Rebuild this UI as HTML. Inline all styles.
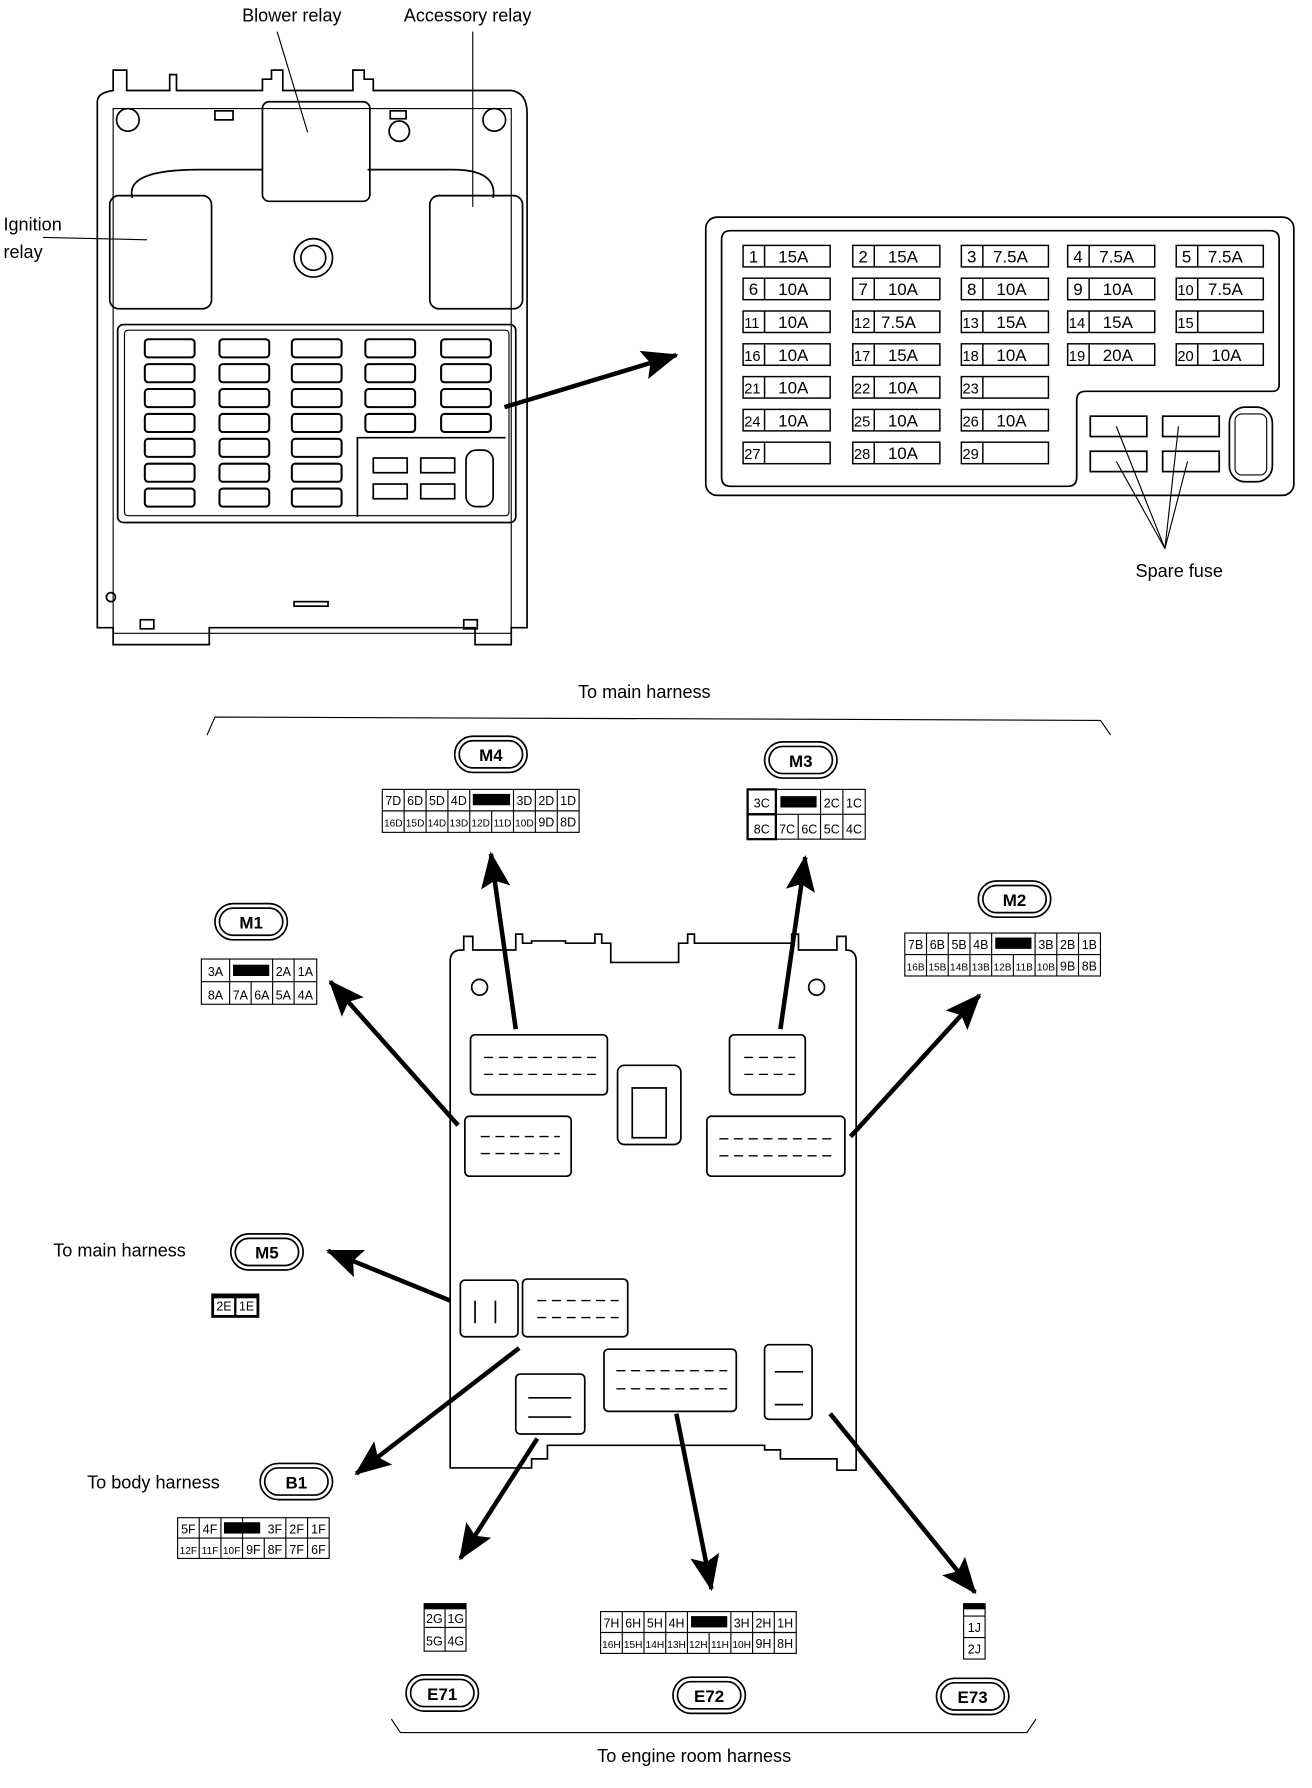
<!DOCTYPE html>
<html><head><meta charset="utf-8"><style>
html,body{margin:0;padding:0;background:#fff}
svg{display:block}
text{font-family:"Liberation Sans",sans-serif;fill:#000}
.l{font-size:16px}
.p{font-size:11px;text-anchor:middle}
.f{font-size:15px}
.b{font-size:15px;font-weight:bold;text-anchor:middle}
</style></head><body>
<svg width="1312" height="1788" viewBox="0 0 1160 1581" xmlns="http://www.w3.org/2000/svg">
<defs>
<marker id="ah" markerUnits="userSpaceOnUse" markerWidth="34" markerHeight="26" refX="30" refY="13" orient="auto">
<path d="M0,0 L32,13 L0,26 L6,13 Z" fill="#000"/>
</marker>
</defs>
<g fill="none" stroke="#000" stroke-width="1.5">
<!-- LEFT FUSE BOX -->
<path d="M86,90 Q86,82 100,80 L100,62 L112,62 L112,80 L150,80 L150,66 L156,66 L156,80 L232,80 L232,70 L240,70 L240,62 L250,62 L250,80 L312,80 L312,62 L322,62 L322,70 L330,70 L330,80 L452,80 Q466,82 466,100 L466,555 L452,555 L452,570 L420,570 L420,555 L185,555 L185,570 L100,570 L100,555 L86,555 Z"/>
<path d="M100,96 L452,96 L452,560 L100,560 Z" stroke-width="1"/>
<circle cx="113" cy="106" r="10"/><circle cx="437" cy="106" r="10"/>
<circle cx="353" cy="116" r="9"/>
<rect x="190" y="98" width="16" height="8"/><rect x="345" y="98" width="14" height="7"/>
<path d="M117,175 Q110,150 176,150 L232,150"/><path d="M325,150 L400,150 Q440,150 436,175"/>
<rect x="232" y="90" width="95" height="88" rx="6"/>
<rect x="97" y="173" width="90" height="100" rx="8"/>
<rect x="380" y="173" width="82" height="100" rx="8"/>
<circle cx="277" cy="228" r="17"/><circle cx="277" cy="228" r="11"/>
<rect x="104" y="287" width="352" height="175" rx="5"/>
<rect x="110" y="292" width="340" height="164" rx="3" stroke-width="1"/>
<path d="M316,457 L316,387 L447,387"/>
<g stroke-width="1.8">
<rect x="128" y="300" width="44" height="16" rx="3"/><rect x="194" y="300" width="44" height="16" rx="3"/><rect x="258" y="300" width="44" height="16" rx="3"/><rect x="323" y="300" width="44" height="16" rx="3"/><rect x="390" y="300" width="44" height="16" rx="3"/>
<rect x="128" y="322" width="44" height="16" rx="3"/><rect x="194" y="322" width="44" height="16" rx="3"/><rect x="258" y="322" width="44" height="16" rx="3"/><rect x="323" y="322" width="44" height="16" rx="3"/><rect x="390" y="322" width="44" height="16" rx="3"/>
<rect x="128" y="344" width="44" height="16" rx="3"/><rect x="194" y="344" width="44" height="16" rx="3"/><rect x="258" y="344" width="44" height="16" rx="3"/><rect x="323" y="344" width="44" height="16" rx="3"/><rect x="390" y="344" width="44" height="16" rx="3"/>
<rect x="128" y="366" width="44" height="16" rx="3"/><rect x="194" y="366" width="44" height="16" rx="3"/><rect x="258" y="366" width="44" height="16" rx="3"/><rect x="323" y="366" width="44" height="16" rx="3"/><rect x="390" y="366" width="44" height="16" rx="3"/>
<rect x="128" y="388" width="44" height="16" rx="3"/><rect x="194" y="388" width="44" height="16" rx="3"/><rect x="258" y="388" width="44" height="16" rx="3"/>
<rect x="128" y="410" width="44" height="16" rx="3"/><rect x="194" y="410" width="44" height="16" rx="3"/><rect x="258" y="410" width="44" height="16" rx="3"/>
<rect x="128" y="432" width="44" height="16" rx="3"/><rect x="194" y="432" width="44" height="16" rx="3"/><rect x="258" y="432" width="44" height="16" rx="3"/>
</g>
<rect x="330" y="405" width="30" height="13"/><rect x="372" y="405" width="30" height="13"/>
<rect x="330" y="428" width="30" height="13"/><rect x="372" y="428" width="30" height="13"/>
<rect x="412" y="398" width="24" height="50" rx="9"/>
<rect x="260" y="532" width="30" height="4"/>
<rect x="124" y="548" width="12" height="8"/><rect x="410" y="548" width="12" height="8"/>
<circle cx="98" cy="528" r="4"/>
<!-- labels lines -->
<line x1="245" y1="28" x2="272" y2="117" stroke-width="1"/>
<line x1="418" y1="28" x2="418" y2="183" stroke-width="1"/>
<line x1="38" y1="210" x2="130" y2="212" stroke-width="1"/>
<line x1="446" y1="360" x2="598" y2="314" stroke-width="4" marker-end="url(#ah)"/>

<!-- RIGHT FUSE PANEL -->
<rect x="624" y="192" width="520" height="246" rx="10"/>
<path d="M646,204 L1123,204 Q1131,204 1131,212 L1131,340 Q1131,346 1125,346 L960,346 Q952,346 952,354 L952,422 Q952,430 944,430 L646,430 Q638,430 638,422 L638,212 Q638,204 646,204 Z"/>
<rect x="964" y="368" width="50" height="18"/><rect x="1028" y="368" width="50" height="18"/>
<rect x="964" y="399" width="50" height="18"/><rect x="1028" y="399" width="50" height="18"/>
<rect x="1087" y="360" width="38" height="66" rx="14"/><rect x="1092" y="366" width="28" height="54" rx="6" stroke-width="1"/>
<path d="M987,377 L1030,485 L1042,377 M987,408 L1030,485 L1050,408" stroke-width="1"/>
<g stroke-width="1.3">
<rect x="657" y="217" width="77" height="19"/><rect x="754" y="217" width="77" height="19"/><rect x="850" y="217" width="77" height="19"/><rect x="944" y="217" width="77" height="19"/><rect x="1040" y="217" width="77" height="19"/>
<rect x="657" y="246" width="77" height="19"/><rect x="754" y="246" width="77" height="19"/><rect x="850" y="246" width="77" height="19"/><rect x="944" y="246" width="77" height="19"/><rect x="1040" y="246" width="77" height="19"/>
<rect x="657" y="275" width="77" height="19"/><rect x="754" y="275" width="77" height="19"/><rect x="850" y="275" width="77" height="19"/><rect x="944" y="275" width="77" height="19"/><rect x="1040" y="275" width="77" height="19"/>
<rect x="657" y="304" width="77" height="19"/><rect x="754" y="304" width="77" height="19"/><rect x="850" y="304" width="77" height="19"/><rect x="944" y="304" width="77" height="19"/><rect x="1040" y="304" width="77" height="19"/>
<rect x="657" y="333" width="77" height="19"/><rect x="754" y="333" width="77" height="19"/><rect x="850" y="333" width="77" height="19"/>
<rect x="657" y="362" width="77" height="19"/><rect x="754" y="362" width="77" height="19"/><rect x="850" y="362" width="77" height="19"/>
<rect x="657" y="391" width="77" height="19"/><rect x="754" y="391" width="77" height="19"/><rect x="850" y="391" width="77" height="19"/>
<path d="M676,217 v19 M773,217 v19 M869,217 v19 M963,217 v19 M1059,217 v19 M676,246 v19 M773,246 v19 M869,246 v19 M963,246 v19 M1059,246 v19 M676,275 v19 M773,275 v19 M869,275 v19 M963,275 v19 M1059,275 v19 M676,304 v19 M773,304 v19 M869,304 v19 M963,304 v19 M1059,304 v19 M676,333 v19 M773,333 v19 M869,333 v19 M676,362 v19 M773,362 v19 M869,362 v19 M676,391 v19 M773,391 v19 M869,391 v19"/>
</g>

<!-- top bracket -->
<path d="M183,650 L190,634 L973,637 L982,650" stroke-width="1"/>
<!-- bottom bracket -->
<path d="M346,1520 L354,1532 L908,1532 L916,1520" stroke-width="1"/>

<!-- CENTRAL BOX -->
<path d="M398,850 Q398,840 408,840 L410,840 L410,828 L418,828 L418,840 L456,840 L456,826 L462,826 L462,834 L470,834 L470,832 L500,832 L500,834 L526,834 L526,826 L532,826 L532,834 L540,834 L540,851 L600,851 L600,834 L608,834 L608,826 L614,826 L614,834 L700,834 L700,826 L706,826 L706,840 L740,840 L740,828 L748,828 L748,840 Q757,840 757,850 L757,1300 L740,1300 L740,1290 L690,1290 L690,1282 L676,1282 L676,1278 L484,1278 L484,1290 L470,1290 L470,1298 L398,1298 Z"/>
<circle cx="424" cy="873" r="7"/><circle cx="722" cy="873" r="7"/>
<rect x="416" y="915" width="121" height="53" rx="4"/>
<rect x="411" y="987" width="94" height="53" rx="4"/>
<rect x="546" y="942" width="56" height="70" rx="6"/><rect x="559" y="962" width="30" height="44"/>
<rect x="645" y="915" width="67" height="53" rx="4"/>
<rect x="625" y="987" width="122" height="53" rx="4"/>
<rect x="407" y="1132" width="51" height="50" rx="4"/>
<rect x="462" y="1131" width="93" height="51" rx="4"/>
<rect x="456" y="1215" width="61" height="53" rx="4"/>
<rect x="534" y="1193" width="117" height="55" rx="4"/>
<rect x="676" y="1189" width="42" height="66" rx="4"/>
<g stroke-width="1.2" stroke-dasharray="8,5">
<path d="M428,935 h100 M428,950 h100 M425,1005 h70 M425,1020 h70 M658,935 h45 M658,950 h45 M636,1007 h100 M636,1022 h100 M475,1150 h72 M475,1165 h72 M545,1212 h98 M545,1228 h98"/>
</g>
<path d="M420,1150 v20 M438,1150 v20 M467,1236 h38 M467,1253 h38 M685,1213 h25 M685,1242 h25" stroke-width="1.5"/>

<!-- ARROWS -->
<g stroke-width="4">
<line x1="456" y1="910" x2="434" y2="755" marker-end="url(#ah)"/>
<line x1="690" y1="910" x2="712" y2="758" marker-end="url(#ah)"/>
<line x1="405" y1="995" x2="292" y2="868" marker-end="url(#ah)"/>
<line x1="752" y1="1005" x2="866" y2="880" marker-end="url(#ah)"/>
<line x1="398" y1="1150" x2="290" y2="1106" marker-end="url(#ah)"/>
<line x1="459" y1="1192" x2="315" y2="1303" marker-end="url(#ah)"/>
<line x1="475" y1="1272" x2="407" y2="1378" marker-end="url(#ah)"/>
<line x1="598" y1="1250" x2="629" y2="1405" marker-end="url(#ah)"/>
<line x1="734" y1="1250" x2="862" y2="1408" marker-end="url(#ah)"/>
</g>

<!-- BADGES -->
<g stroke-width="1.5">
<rect x="402" y="651" width="64" height="32" rx="16"/><rect x="406" y="655" width="56" height="24" rx="12"/>
<rect x="676" y="656" width="64" height="32" rx="16"/><rect x="680" y="660" width="56" height="24" rx="12"/>
<rect x="190" y="799" width="64" height="32" rx="16"/><rect x="194" y="803" width="56" height="24" rx="12"/>
<rect x="865" y="779" width="64" height="32" rx="16"/><rect x="869" y="783" width="56" height="24" rx="12"/>
<rect x="204" y="1091" width="64" height="32" rx="16"/><rect x="208" y="1095" width="56" height="24" rx="12"/>
<rect x="230" y="1294" width="64" height="32" rx="16"/><rect x="234" y="1298" width="56" height="24" rx="12"/>
<rect x="359" y="1481" width="64" height="32" rx="16"/><rect x="363" y="1485" width="56" height="24" rx="12"/>
<rect x="595" y="1483" width="64" height="32" rx="16"/><rect x="599" y="1487" width="56" height="24" rx="12"/>
<rect x="828" y="1484" width="64" height="32" rx="16"/><rect x="832" y="1488" width="56" height="24" rx="12"/>
</g>

<!-- PIN GRIDS -->
<g stroke-width="1">
<!-- M4 -->
<rect x="338" y="698" width="174" height="38"/><path d="M338,717 h174 M357.3,698 v38 M376.7,698 v38 M396,698 v38 M415.3,698 v38 M434.7,717 v19 M454,698 v38 M473.3,698 v38 M492.7,698 v38"/>
<!-- M2 -->
<rect x="800" y="825" width="173" height="38"/><path d="M800,844 h173 M819.2,825 v38 M838.4,825 v38 M857.6,825 v38 M876.8,825 v38 M896,844 v19 M915.2,825 v38 M934.4,825 v38 M953.6,825 v38"/>
<!-- E72 -->
<rect x="531" y="1425" width="173" height="37"/><path d="M531,1443.5 h173 M550.2,1425 v37 M569.4,1425 v37 M588.6,1425 v37 M607.8,1425 v37 M627,1443.5 v18.5 M646.2,1425 v37 M665.4,1425 v37 M684.6,1425 v37"/>
<!-- B1 -->
<rect x="157" y="1342" width="134" height="36"/><path d="M157,1360 h134 M176.1,1342 v36 M195.3,1342 v36 M214.4,1342 v36 M233.6,1360 v18 M252.7,1342 v36 M271.9,1342 v36"/>
<!-- M1 -->
<rect x="178" y="848" width="102" height="40"/><path d="M178,868 h25 M203,848 v40 M203,868 h77 M222,868 v20 M241,848 v40 M260,848 v40"/>
<!-- M3 -->
<rect x="661" y="698" width="104" height="44"/><rect x="661" y="698" width="25" height="22" stroke-width="2"/><rect x="661" y="720" width="25" height="22" stroke-width="2"/><path d="M686,720 h79 M705.75,720 v22 M725.5,698 v44 M745.25,698 v44"/>
<!-- M5 -->
<rect x="188" y="1145" width="40" height="19" stroke-width="2.5"/><path d="M208,1145 v19" stroke-width="2"/>
<!-- E71 -->
<rect x="375" y="1418" width="37" height="42"/><path d="M375,1439 h37 M393.5,1418 v42"/>
<!-- E73 -->
<rect x="852" y="1418" width="19" height="49"/><path d="M852,1429 h19 M852,1448 h19"/>
</g>
</g>
<g fill="#000">
<rect x="418" y="702" width="33" height="10"/>
<rect x="880" y="829" width="32" height="10"/>
<rect x="611" y="1429" width="32" height="10"/>
<rect x="198" y="1346" width="32" height="10"/>
<rect x="206" y="853" width="32" height="10"/>
<rect x="690" y="704" width="32" height="10"/>
<rect x="375" y="1418" width="37" height="5"/>
<rect x="852" y="1418" width="19" height="5"/>
<rect x="188" y="1145" width="40" height="3"/>
</g>

<!-- TEXT -->
<text class="l" x="214" y="19">Blower relay</text>
<text class="l" x="357" y="19">Accessory relay</text>
<text class="l" x="3" y="204">Ignition</text>
<text class="l" x="3" y="228">relay</text>
<text class="l" x="1004" y="510">Spare fuse</text>
<text class="l" x="511" y="617">To main harness</text>
<text class="l" x="47" y="1111">To main harness</text>
<text class="l" x="77" y="1316">To body harness</text>
<text class="l" x="528" y="1558">To engine room harness</text>

<g class="f">
<text x="662" y="232">1</text><text x="688" y="232">15A</text><text x="759" y="232">2</text><text x="785" y="232">15A</text><text x="855" y="232">3</text><text x="878" y="232">7.5A</text><text x="949" y="232">4</text><text x="972" y="232">7.5A</text><text x="1045" y="232">5</text><text x="1068" y="232">7.5A</text>
<text x="662" y="261">6</text><text x="688" y="261">10A</text><text x="759" y="261">7</text><text x="785" y="261">10A</text><text x="855" y="261">8</text><text x="881" y="261">10A</text><text x="949" y="261">9</text><text x="975" y="261">10A</text><text x="1041" y="261" font-size="13">10</text><text x="1068" y="261">7.5A</text>
<text x="658" y="290" font-size="13">11</text><text x="688" y="290">10A</text><text x="755" y="290" font-size="13">12</text><text x="779" y="290">7.5A</text><text x="851" y="290" font-size="13">13</text><text x="881" y="290">15A</text><text x="945" y="290" font-size="13">14</text><text x="975" y="290">15A</text><text x="1041" y="290" font-size="13">15</text>
<text x="658" y="319" font-size="13">16</text><text x="688" y="319">10A</text><text x="755" y="319" font-size="13">17</text><text x="785" y="319">15A</text><text x="851" y="319" font-size="13">18</text><text x="881" y="319">10A</text><text x="945" y="319" font-size="13">19</text><text x="975" y="319">20A</text><text x="1041" y="319" font-size="13">20</text><text x="1071" y="319">10A</text>
<text x="658" y="348" font-size="13">21</text><text x="688" y="348">10A</text><text x="755" y="348" font-size="13">22</text><text x="785" y="348">10A</text><text x="851" y="348" font-size="13">23</text>
<text x="658" y="377" font-size="13">24</text><text x="688" y="377">10A</text><text x="755" y="377" font-size="13">25</text><text x="785" y="377">10A</text><text x="851" y="377" font-size="13">26</text><text x="881" y="377">10A</text>
<text x="658" y="406" font-size="13">27</text><text x="755" y="406" font-size="13">28</text><text x="785" y="406">10A</text><text x="851" y="406" font-size="13">29</text>
</g>

<g class="b">
<text x="434" y="673">M4</text><text x="708" y="678">M3</text><text x="222" y="821">M1</text><text x="897" y="801">M2</text><text x="236" y="1113">M5</text><text x="262" y="1316">B1</text><text x="391" y="1503">E71</text><text x="627" y="1505">E72</text><text x="860" y="1506">E73</text>
</g>

<g class="p">
<text x="347.7" y="712">7D</text><text x="367" y="712">6D</text><text x="386.3" y="712">5D</text><text x="405.7" y="712">4D</text><text x="463.7" y="712">3D</text><text x="483" y="712">2D</text><text x="502.3" y="712">1D</text>
<text x="347.7" y="731" font-size="9">16D</text><text x="367" y="731" font-size="9">15D</text><text x="386.3" y="731" font-size="9">14D</text><text x="405.7" y="731" font-size="9">13D</text><text x="425" y="731" font-size="9">12D</text><text x="444.3" y="731" font-size="9">11D</text><text x="463.7" y="731" font-size="9">10D</text><text x="483" y="731">9D</text><text x="502.3" y="731">8D</text>
<text x="809.6" y="839">7B</text><text x="828.8" y="839">6B</text><text x="848" y="839">5B</text><text x="867.2" y="839">4B</text><text x="924.8" y="839">3B</text><text x="944" y="839">2B</text><text x="963.2" y="839">1B</text>
<text x="809.6" y="858" font-size="9">16B</text><text x="828.8" y="858" font-size="9">15B</text><text x="848" y="858" font-size="9">14B</text><text x="867.2" y="858" font-size="9">13B</text><text x="886.4" y="858" font-size="9">12B</text><text x="905.6" y="858" font-size="9">11B</text><text x="924.8" y="858" font-size="9">10B</text><text x="944" y="858">9B</text><text x="963.2" y="858">8B</text>
<text x="540.6" y="1439">7H</text><text x="559.8" y="1439">6H</text><text x="579" y="1439">5H</text><text x="598.2" y="1439">4H</text><text x="655.8" y="1439">3H</text><text x="675" y="1439">2H</text><text x="694.2" y="1439">1H</text>
<text x="540.6" y="1457" font-size="9">16H</text><text x="559.8" y="1457" font-size="9">15H</text><text x="579" y="1457" font-size="9">14H</text><text x="598.2" y="1457" font-size="9">13H</text><text x="617.4" y="1457" font-size="9">12H</text><text x="636.6" y="1457" font-size="9">11H</text><text x="655.8" y="1457" font-size="9">10H</text><text x="675" y="1457">9H</text><text x="694.2" y="1457">8H</text>
<text x="166.5" y="1356">5F</text><text x="185.7" y="1356">4F</text><text x="243" y="1356">3F</text><text x="262.3" y="1356">2F</text><text x="281.5" y="1356">1F</text>
<text x="166.5" y="1374" font-size="9">12F</text><text x="185.7" y="1374" font-size="9">11F</text><text x="204.8" y="1374" font-size="9">10F</text><text x="224" y="1374">9F</text><text x="243" y="1374">8F</text><text x="262.3" y="1374">7F</text><text x="281.5" y="1374">6F</text>
<text x="190.5" y="863">3A</text><text x="250.5" y="863">2A</text><text x="270" y="863">1A</text>
<text x="190.5" y="884">8A</text><text x="212.5" y="884">7A</text><text x="231.5" y="884">6A</text><text x="250.5" y="884">5A</text><text x="270" y="884">4A</text>
<text x="673.5" y="714">3C</text><text x="735.4" y="714">2C</text><text x="755.1" y="714">1C</text>
<text x="673.5" y="737">8C</text><text x="695.9" y="737">7C</text><text x="715.6" y="737">6C</text><text x="735.4" y="737">5C</text><text x="755.1" y="737">4C</text>
<text x="198" y="1159">2E</text><text x="218" y="1159">1E</text>
<text x="384" y="1435">2G</text><text x="403" y="1435">1G</text><text x="384" y="1455">5G</text><text x="403" y="1455">4G</text>
<text x="861.5" y="1443">1J</text><text x="861.5" y="1462">2J</text>
</g>
</svg>
</body></html>
